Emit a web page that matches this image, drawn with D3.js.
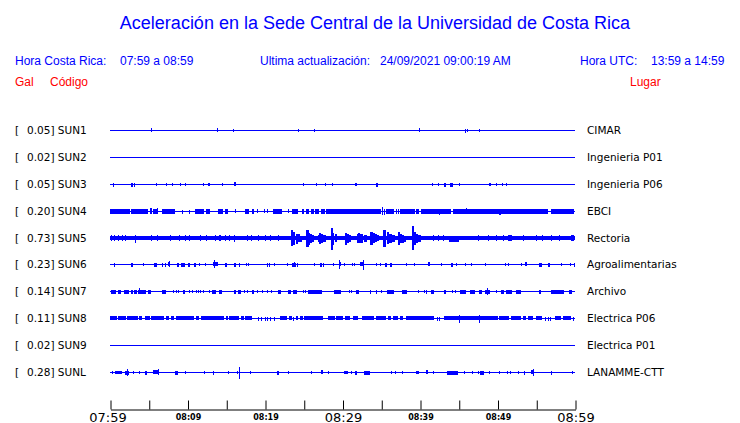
<!DOCTYPE html>
<html><head><meta charset="utf-8">
<script src="https://cdn.jsdelivr.net/npm/d3@7"></script>
<style>
html,body{margin:0;padding:0;background:#fff;}
svg{display:block;}
</style></head>
<body>
<svg id="chart" width="740" height="423"></svg>
<script>
// ---------- DATA ----------
const titleText = "Aceleración en la Sede Central de la Universidad de Costa Rica";
const stationCodes = ["SUN1","SUN2","SUN3","SUN4","SUN5","SUN6","SUN7","SUN8","SUN9","SUNL"];
const peakGal = ["0.05","0.02","0.05","0.20","0.73","0.23","0.14","0.11","0.02","0.28"];
const places = ["CIMAR","Ingenieria P01","Ingenieria P06","EBCI","Rectoria","Agroalimentarias","Archivo","Electrica P06","Electrica P01","LANAMME-CTT"];
const tickMinutes = [0,5,10,15,20,25,30,35,40,45,50,55,60];
const tickLabels = ["07:59","","08:09","","08:19","","08:29","","08:39","","08:49","","08:59"];
const bigTickLabels = ["07:59","08:29","08:59"];

// envelope segments per station: [startMinute, endMinute, relative half-amplitude]
const sun1 = [[5.33,5.33,0.12],[13.85,13.85,0.12],[15.9,15.9,0.08],[24.3,24.3,0.08],[26.4,26.4,0.08],[39.9,39.9,0.12],[45.85,45.85,0.1],[46.1,46.1,0.08],[47.65,47.65,0.08]];
const sun2 = [];
const sun3 = [[0.43,0.43,0.1],[2.75,2.95,0.1],[3.2,3.35,0.1],[5.98,5.98,0.08],[7.27,7.27,0.08],[8.04,8.04,0.08],[9.12,9.12,0.08],[9.68,9.68,0.08],[12.04,12.04,0.08],[12.7,12.9,0.08],[14.5,14.5,0.08],[16.1,16.3,0.12],[24.95,24.95,0.08],[26.6,26.6,0.08],[27.8,27.8,0.08],[28.7,28.7,0.08],[31.7,31.9,0.08],[34.4,34.65,0.1],[41.6,41.6,0.08],[42.4,42.4,0.08],[43.1,43.35,0.1],[44.0,44.35,0.1],[45.1,45.1,0.08],[49.0,49.25,0.08],[49.9,49.9,0.08],[50.7,50.7,0.08],[51.1,51.1,0.08]];
const sun4 = [[0,2.58,0.14],[2.8,4.95,0.14],[5.2,5.42,0.2],[5.59,6.24,0.14],[6.1,6.1,0.2],[6.75,8.47,0.14],[9.33,9.33,0.1],[10.24,10.24,0.1],[10.97,11.74,0.14],[11.83,12.26,0.14],[12.47,13.03,0.14],[13.98,14.67,0.14],[14.92,15.27,0.14],[16.13,16.13,0.12],[17.42,17.94,0.14],[18.41,18.62,0.14],[18.97,18.97,0.12],[19.96,19.96,0.12],[20.3,20.3,0.12],[21.12,22.32,0.14],[22.97,22.97,0.12],[23.53,24.3,0.14],[24.9,25.16,0.14],[25.33,25.68,0.14],[26.02,26.37,0.14],[26.5,26.97,0.14],[27.23,27.74,0.14],[27.96,35.05,0.14],[35.14,35.14,0.27],[35.4,35.4,0.18],[35.7,36.77,0.14],[37.0,37.0,0.14],[37.2,37.2,0.14],[37.42,39.35,0.14],[39.57,40.0,0.14],[40.2,44.09,0.14],[42.58,42.58,0.18],[44.3,56.56,0.14],[45.98,45.98,0.2],[50.24,50.54,0.18],[54.62,54.62,0.17],[56.13,56.13,0.17],[56.99,60,0.15]];
const sun5 = [[0,60,0.13],
 [0.2,0.3,0.2],[0.6,0.7,0.2],[1.1,1.2,0.2],[1.6,1.75,0.2],[2.0,2.1,0.2],[3.23,3.23,0.26],[5.38,5.38,0.2],[6.15,6.15,0.2],[7.78,7.78,0.2],[9.03,9.03,0.2],[9.68,9.68,0.2],[10.32,10.32,0.2],[11.7,11.7,0.2],[12.47,12.47,0.2],[13.55,13.55,0.2],[14.1,14.4,0.2],[14.84,14.84,0.2],[15.48,15.48,0.2],[16.05,16.2,0.24],[17.68,17.68,0.2],[18.28,18.28,0.2],[19.14,19.14,0.2],[20.0,20.0,0.2],[20.65,20.65,0.2],[21.72,21.72,0.2],
 [23.45,23.68,0.58],[23.68,24.0,0.45],[24.0,24.3,0.33],[24.3,24.52,0.27],[24.52,24.74,0.19],
 [25.38,25.72,0.6],[25.72,25.9,0.42],[25.9,26.15,0.3],[26.15,26.45,0.23],
 [26.88,27.01,0.23],[27.01,27.32,0.4],[27.32,27.55,0.3],[27.55,27.96,0.22],
 [28.61,28.9,0.8],[28.9,29.05,0.42],[29.05,29.25,0.28],
 [30.41,30.66,0.42],[30.66,30.9,0.3],[30.9,31.19,0.22],
 [31.91,32.1,0.3],[32.1,32.35,0.36],[32.35,32.8,0.3],[32.8,33.2,0.24],
 [33.64,33.98,0.48],[33.98,34.25,0.35],[34.25,34.55,0.27],[34.55,34.84,0.21],
 [35.35,35.78,0.62],[35.78,36.05,0.44],[36.05,36.4,0.32],[36.4,36.77,0.22],
 [37.2,37.5,0.46],[37.5,37.8,0.32],[37.8,38.06,0.25],[38.06,38.28,0.19],
 [39.06,39.35,0.9],[39.35,39.55,0.45],[39.55,39.85,0.32],[39.85,40.22,0.22],
 [41.72,41.72,0.2],[42.37,42.37,0.2],[43.0,43.0,0.2],[43.87,45.16,0.18],[47.53,47.53,0.2],[48.82,48.82,0.2],[49.89,49.89,0.2],[50.75,50.75,0.2],[51.4,51.9,0.2],[53.3,53.3,0.2],[55.05,55.05,0.2],[55.8,55.8,0.2],[57.0,57.0,0.2],[58.06,58.06,0.2],[59.57,60,0.2]];
const sun6 = [[0.56,0.56,0.1],[2.8,3.05,0.1],[4.3,4.3,0.06],[5.8,6.24,0.1],[6.75,6.75,0.1],[7.18,7.18,0.1],[7.6,7.85,0.12],[7.74,7.74,0.2],[8.7,8.95,0.1],[9.2,9.7,0.1],[10.1,10.3,0.1],[10.9,11.15,0.1],[11.53,11.53,0.08],[12.26,12.26,0.08],[13.38,13.98,0.12],[13.46,13.46,0.27],[14.85,15.05,0.1],[16.1,16.35,0.1],[16.7,16.85,0.1],[17.55,17.55,0.08],[17.85,17.85,0.08],[20.3,20.3,0.1],[20.52,20.52,0.1],[21.2,21.2,0.06],[22.88,22.88,0.08],[23.57,24.09,0.1],[23.78,23.78,0.16],[24.22,24.22,0.1],[26.37,26.37,0.08],[27.15,27.35,0.1],[27.6,27.75,0.1],[28.9,28.9,0.08],[29.55,29.8,0.12],[29.62,29.62,0.3],[30.32,30.32,0.08],[31.31,31.31,0.08],[31.61,31.61,0.08],[32.3,32.82,0.12],[32.69,32.69,0.33],[34.41,34.41,0.08],[34.92,34.92,0.08],[35.6,35.8,0.1],[36.25,36.45,0.1],[38.28,38.28,0.08],[39.35,39.35,0.08],[41.05,41.3,0.12],[42.71,42.71,0.06],[44.1,44.35,0.1],[44.73,44.73,0.08],[45.81,45.81,0.08],[46.67,46.67,0.08],[48.39,48.39,0.06],[50.97,50.97,0.08],[51.4,51.4,0.06],[53.12,53.12,0.08],[53.65,53.85,0.12],[55.4,55.75,0.1],[56.55,56.8,0.1],[58.28,58.28,0.08],[59.44,59.44,0.08],[59.91,59.91,0.1]];
const sun7 = [[0.22,0.86,0.1],[1.08,1.42,0.1],[1.85,2.45,0.1],[2.71,3.01,0.1],[3.14,3.57,0.1],[3.66,4.73,0.11],[3.87,3.87,0.2],[4.95,5.38,0.1],[6.75,7.31,0.1],[8.17,8.17,0.08],[8.52,8.52,0.08],[8.82,8.82,0.08],[9.46,9.76,0.1],[10.32,10.32,0.08],[10.62,10.62,0.08],[11.18,11.18,0.08],[11.4,11.4,0.08],[11.7,11.7,0.08],[12.09,12.09,0.08],[12.9,12.9,0.08],[13.25,13.76,0.1],[14.15,14.49,0.1],[16.04,16.34,0.1],[16.56,16.9,0.1],[17.33,17.33,0.08],[17.76,17.76,0.08],[18.45,18.71,0.1],[19.05,19.05,0.08],[19.66,19.66,0.08],[20.3,20.3,0.08],[20.86,20.86,0.08],[21.72,22.15,0.1],[23.01,23.35,0.1],[23.66,24.22,0.1],[24.99,24.99,0.08],[25.29,25.29,0.08],[25.59,27.4,0.1],[29.03,29.89,0.1],[30.84,30.84,0.08],[31.18,31.18,0.08],[31.83,32.26,0.1],[33.59,33.76,0.1],[34.41,34.54,0.1],[35.05,35.05,0.08],[35.83,36.69,0.1],[37.76,38.41,0.1],[39.78,39.78,0.08],[40.56,40.56,0.08],[40.86,40.99,0.1],[41.5,41.94,0.1],[43.14,43.44,0.1],[44.22,44.22,0.08],[44.52,44.52,0.08],[45.29,46.02,0.1],[46.54,47.18,0.1],[47.74,48.17,0.1],[48.39,49.03,0.11],[48.73,48.73,0.22],[49.89,49.89,0.08],[50.54,50.97,0.1],[51.18,51.91,0.1],[52.47,53.12,0.1],[55.48,55.78,0.1],[56.99,58.62,0.1],[59.35,59.78,0.1]];
const sun8 = [[0,0.86,0.12],[1.08,2.15,0.12],[2.28,3.66,0.12],[3.87,4.3,0.12],[4.52,5.16,0.12],[5.38,7.01,0.12],[7.31,7.74,0.12],[7.96,8.39,0.12],[8.6,10.97,0.12],[11.18,11.61,0.12],[11.83,14.84,0.12],[15.05,15.35,0.12],[15.48,16.77,0.12],[16.99,17.33,0.12],[17.42,18.28,0.12],[19.14,19.14,0.1],[19.57,19.57,0.1],[20.0,20.0,0.1],[20.34,20.34,0.1],[20.73,20.73,0.1],[21.2,21.2,0.1],[21.94,22.8,0.12],[23.1,23.44,0.12],[23.66,23.66,0.1],[24.09,24.3,0.12],[24.52,24.95,0.12],[25.16,27.66,0.12],[28.17,29.03,0.12],[29.25,30.11,0.12],[30.45,31.1,0.12],[31.4,32.04,0.12],[32.6,34.19,0.12],[34.41,35.7,0.12],[35.91,36.34,0.12],[36.56,37.2,0.12],[37.42,37.85,0.12],[38.28,41.94,0.12],[42.28,42.28,0.1],[42.58,42.58,0.1],[43.14,50.11,0.12],[45.16,45.16,0.25],[47.74,47.74,0.25],[50.32,51.61,0.12],[51.83,53.12,0.12],[53.33,53.76,0.12],[53.98,54.62,0.12],[54.97,55.7,0.12],[56.22,56.22,0.1],[56.56,56.56,0.1],[56.9,56.9,0.1],[57.42,58.19,0.12],[58.49,59.57,0.12],[59.78,59.78,0.1]];
const sun9 = [];
const sunL = [[0.3,0.3,0.08],[0.65,1.51,0.08],[1.94,2.45,0.1],[2.28,2.28,0.22],[3.01,3.01,0.08],[3.87,3.87,0.08],[4.52,4.73,0.1],[5.59,6.24,0.12],[6.24,6.24,0.2],[8.47,8.9,0.1],[9.76,9.76,0.08],[12.17,12.17,0.08],[13.38,13.38,0.1],[15.27,15.27,0.06],[16.47,16.47,0.08],[16.69,16.69,0.42],[18.19,18.19,0.06],[21.63,21.85,0.1],[23.01,23.01,0.06],[26.02,26.02,0.06],[27.31,27.53,0.12],[28.17,28.17,0.06],[30.24,30.75,0.08],[31.1,31.1,0.08],[31.7,31.91,0.1],[32.82,33.63,0.1],[36.26,36.26,0.08],[36.9,36.9,0.08],[37.76,37.76,0.08],[39.57,40.0,0.08],[40.86,41.08,0.12],[41.72,41.72,0.08],[43.57,44.95,0.1],[45.72,45.72,0.08],[46.75,46.75,0.08],[47.53,47.53,0.08],[47.87,48.39,0.1],[49.03,49.03,0.08],[50.24,50.24,0.08],[51.31,51.31,0.08],[51.74,51.74,0.08],[52.69,52.69,0.08],[53.46,53.63,0.1],[54.41,54.71,0.12],[54.6,54.6,0.22],[56.99,56.99,0.1],[59.7,59.7,0.08]];
const traces = [sun1,sun2,sun3,sun4,sun5,sun6,sun7,sun8,sun9,sunL];

// ---------- DRAW ----------
const svg = d3.select("#chart");
const blue = "#0000ff", red = "#ff0000";
const sans = "'Liberation Sans', Arial, sans-serif";
const deja = "'DejaVu Sans', sans-serif";

svg.append("text").attr("x", 375).attr("y", 29).attr("text-anchor","middle")
  .attr("font-family", sans).attr("font-size", 18).attr("fill", blue).text(titleText);

const hdr = [["Hora Costa Rica:",15],["07:59 a 08:59",120],["Ultima actualización:",260],["24/09/2021 09:00:19 AM",380],["Hora UTC:",580],["13:59 a 14:59",651]];
svg.selectAll("text.hdr").data(hdr).join("text").attr("class","hdr")
  .attr("x", d=>d[1]).attr("y", 65).attr("font-family", sans).attr("font-size", 12).attr("fill", blue).text(d=>d[0]);
const hdr2 = [["Gal",15],["Código",50],["Lugar",630]];
svg.selectAll("text.hdr2").data(hdr2).join("text").attr("class","hdr2")
  .attr("x", d=>d[1]).attr("y", 86).attr("font-family", sans).attr("font-size", 12).attr("fill", red).text(d=>d[0]);

const x = d3.scaleLinear().domain([0,60]).range([110,575]);
const row = d3.scalePoint().domain(stationCodes).range([130.5,372.5]);
const amp = d3.scaleLinear().domain([-1,1]).range([13,-13]);

stationCodes.forEach((code,i)=>{
  const cy = Math.round(row(code)-0.5)+0.5;
  const g = svg.append("g");
  g.append("text").attr("x",15).attr("y",cy+3.8).attr("font-family",deja).attr("font-size",10.5).attr("fill","#000").text("[");
  g.append("text").attr("x",27).attr("y",cy+3.8).attr("font-family",deja).attr("font-size",10.5).attr("fill","#000").text(peakGal[i]+"] "+code);
  g.append("text").attr("x",587).attr("y",cy+3.8).attr("font-family",deja).attr("font-size",10.5).attr("fill","#000").text(places[i]);
  g.append("line").attr("x1",x(0)).attr("x2",x(60)).attr("y1",cy).attr("y2",cy)
    .attr("stroke",blue).attr("stroke-width",1).attr("shape-rendering","crispEdges");
  g.selectAll("rect").data(traces[i]).join("rect")
    .attr("x", d=>Math.floor(x(d[0])))
    .attr("width", d=>Math.max(1, Math.round(x(d[1])-x(d[0]))))
    .attr("y", d=>Math.round(cy-0.5+amp(d[2])))
    .attr("height", d=>Math.max(1, Math.round(amp(-d[2])-amp(d[2]))+1))
    .attr("fill", blue).attr("shape-rendering","crispEdges");
});

// axis
const axis = d3.axisBottom(x).tickValues(tickMinutes).tickSize(-9).tickSizeOuter(0)
  .tickFormat((d,i)=>tickLabels[i]);
const ag = svg.append("g").attr("transform","translate(0.5,409.5)").call(axis);
ag.select(".domain").attr("stroke","#000");
ag.selectAll(".tick line").attr("stroke","#000");
const isBig = d=>bigTickLabels.includes(tickLabels[tickMinutes.indexOf(d)]);
ag.selectAll(".tick text")
  .attr("font-family", deja)
  .attr("fill","#000")
  .attr("dy", null)
  .attr("y", d=>isBig(d) ? 12 : 10)
  .attr("font-size", d=>isBig(d) ? 13 : 8)
  .attr("font-weight", d=>isBig(d) ? "normal" : "bold")
  .attr("dx", d=> d===0 ? -3 : 0);
</script>
</body></html>
